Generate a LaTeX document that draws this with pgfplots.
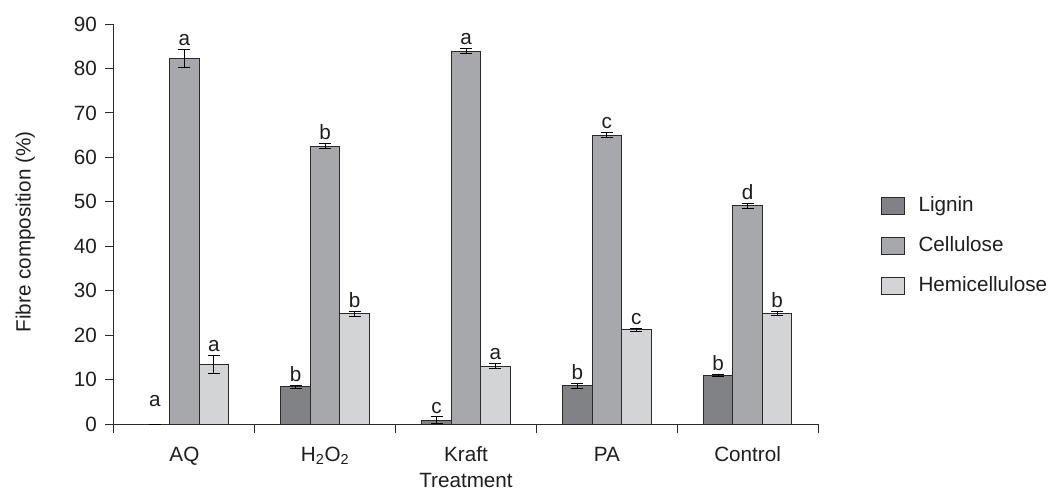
\documentclass[border=0pt]{standalone}
\usepackage{fontspec}
\setmainfont{Liberation Sans}
\usepackage{pgfplots}
\usepackage{pgfplotstable}
\pgfplotsset{compat=1.18}
\definecolor{lig}{HTML}{818285}
\definecolor{cel}{HTML}{A7A8AB}
\definecolor{hem}{HTML}{D3D4D6}
\definecolor{edge}{HTML}{2A2A2A}
\definecolor{txt}{HTML}{1E1E1E}

\pgfplotstableread{
x y e l ly
0 0 0 a 3.0
1 8.4 0.3 b 8.7
2 0.9 0.7 c 1.6
3 8.6 0.5 b 9.1
4 11.0 0.2 b 11.2
}\lignin
\pgfplotstableread{
x y e l ly
0 82.3 2.0 a 84.3
1 62.55 0.6 b 63.15
2 83.9 0.6 a 84.5
3 65.0 0.6 c 65.6
4 49.1 0.5 d 49.6
}\cellulose
\pgfplotstableread{
x y e l ly
0 13.4 2.0 a 15.4
1 24.8 0.5 b 25.3
2 13.0 0.6 a 13.6
3 21.2 0.3 c 21.5
4 24.9 0.5 b 25.4
}\hemi

\newcommand{\fs}{\fontsize{15.5}{18}\selectfont}
\newcommand{\bw}{0.2093}

\begin{document}
\begin{tikzpicture}
\begin{axis}[
  scale only axis, width=528pt, height=300pt,
  xmin=-0.5, xmax=4.5, ymin=0, ymax=90,
  axis x line*=bottom, axis y line*=left,
  axis line style={line width=0.75pt, edge},
  ytick={0,10,...,90},
  xtick={-0.5,0.5,...,4.5}, xticklabels={},
  extra x ticks={0,1,2,3,4},
  extra x tick labels={AQ, H\textsubscript{2}O\textsubscript{2}, Kraft, PA, Control},
  extra x tick style={major tick length=0pt, tick style={draw=none},
     x tick label style={text height=11.5pt, yshift=-13pt}},
  tick align=outside, major tick length=6.75pt,
  tick style={line width=0.75pt, edge},
  /pgf/number format/assume math mode=true,
  tick label style={font=\fs, text=txt},
  y tick label style={xshift=-2.5pt},
  ylabel={Fibre composition (\%)},
  xlabel={Treatment},
  label style={font=\fs, text=txt},
  ylabel style={at={(axis description cs:-0.126,0.48)}, anchor=center},
  xlabel style={at={(axis description cs:0.5,-0.142)}, anchor=center},
  clip=false,
  ybar, bar width=22.1pt, bar shift=0pt,
  error bars/y dir=both, error bars/y explicit,
  error bars/error bar style={line width=0.75pt, black},
  error bars/error mark options={rotate=90, mark size=4.5pt, line width=0.75pt, black},
  legend style={draw=none, fill=none, inner sep=0pt, outer sep=0pt,
     at={(1,0.4455)}, anchor=west, xshift=47.25pt, row sep=14pt,
     font=\fs, text=txt,
     nodes={text height=12pt, text depth=4pt, inner sep=0pt}},
  legend cell align=left,
  legend image code/.code={%
     \draw[#1,line width=0.75pt] (0pt,-6.8pt) rectangle (17.25pt,5.95pt);
     \path[draw=none, fill=none] (0pt,0pt) -- (27.75pt,0pt);},
  nodes near coords style={font=\fs, text=txt, anchor=south, inner sep=2.5pt},
]
\addplot[fill=lig, draw=edge, line width=0.75pt]
  table[x expr=\thisrow{x}-\bw, y=y, y error=e]{\lignin};
\addlegendentry{Lignin}
\addplot[fill=cel, draw=edge, line width=0.75pt]
  table[x=x, y=y, y error=e]{\cellulose};
\addlegendentry{Cellulose}
\addplot[fill=hem, draw=edge, line width=0.75pt]
  table[x expr=\thisrow{x}+\bw, y=y, y error=e]{\hemi};
\addlegendentry{Hemicellulose}

\addplot[draw=none, fill=none, forget plot,
  nodes near coords, point meta=explicit symbolic]
  table[x expr=\thisrow{x}-\bw, y=ly, meta=l]{\lignin};
\addplot[draw=none, fill=none, forget plot,
  nodes near coords, point meta=explicit symbolic]
  table[x=x, y=ly, meta=l]{\cellulose};
\addplot[draw=none, fill=none, forget plot,
  nodes near coords, point meta=explicit symbolic]
  table[x expr=\thisrow{x}+\bw, y=ly, meta=l]{\hemi};

\coordinate (O) at (rel axis cs:0,0);
\coordinate (T) at (rel axis cs:1,1);
\end{axis}
\pgfresetboundingbox
\useasboundingbox ([shift={(-85.5pt,-59.25pt)}]O) rectangle ([shift={(174.75pt,18pt)}]T);
\end{tikzpicture}
\end{document}
